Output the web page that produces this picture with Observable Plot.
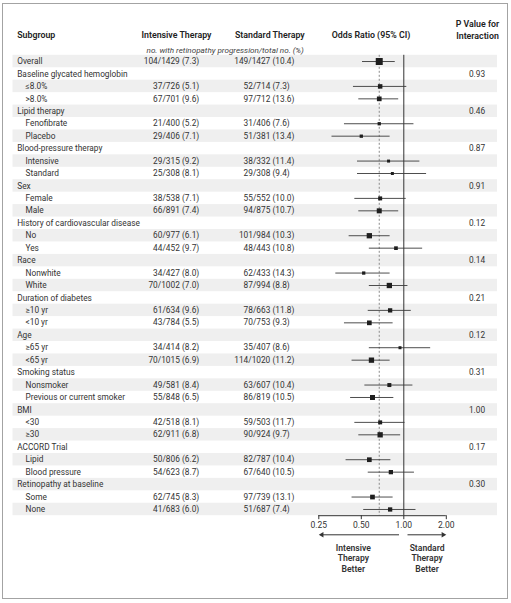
<!DOCTYPE html>
<html><head><meta charset="utf-8">
<script src="https://cdn.jsdelivr.net/npm/d3@7"></script>
<script src="https://cdn.jsdelivr.net/npm/@observablehq/plot@0.6"></script>
<style>
body{margin:0;background:#fff;}
#wrap{position:relative;width:511px;height:603px;}
#box{position:absolute;left:2px;top:3px;width:506px;height:596px;box-sizing:border-box;border:1.5px solid #a3a3a3;}
#chart{position:absolute;left:0;top:0;}
</style></head><body>
<div id="wrap"><div id="box"></div><div id="chart"></div></div>
<script>
// ---------- data ----------
const subgroup = ["Overall","Baseline glycated hemoglobin","≤8.0%",">8.0%","Lipid therapy","Fenofibrate","Placebo",
  "Blood-pressure therapy","Intensive","Standard","Sex","Female","Male","History of cardiovascular disease","No","Yes",
  "Race","Nonwhite","White","Duration of diabetes","≥10 yr","<10 yr","Age","≥65 yr","<65 yr","Smoking status",
  "Nonsmoker","Previous or current smoker","BMI","<30","≥30","ACCORD Trial","Lipid","Blood pressure",
  "Retinopathy at baseline","Some","None"];
const depth = [0,0,1,1,0,1,1,0,1,1,0,1,1,0,1,1,0,1,1,0,1,1,0,1,1,0,1,1,0,1,1,0,1,1,0,1,1];
const intEvents = [104,null,37,67,null,21,29,null,29,25,null,38,66,null,60,44,null,34,70,null,61,43,null,34,70,null,49,55,null,42,62,null,50,54,null,62,41];
const intTotal  = [1429,null,726,701,null,400,406,null,315,308,null,538,891,null,977,452,null,427,1002,null,634,784,null,414,1015,null,581,848,null,518,911,null,806,623,null,745,683];
const intPct    = [7.3,null,5.1,9.6,null,5.2,7.1,null,9.2,8.1,null,7.1,7.4,null,6.1,9.7,null,8.0,7.0,null,9.6,5.5,null,8.2,6.9,null,8.4,6.5,null,8.1,6.8,null,6.2,8.7,null,8.3,6.0];
const stdEvents = [149,null,52,97,null,31,51,null,38,29,null,55,94,null,101,48,null,62,87,null,78,70,null,35,114,null,63,86,null,59,90,null,82,67,null,97,51];
const stdTotal  = [1427,null,714,712,null,406,381,null,332,308,null,552,875,null,984,443,null,433,994,null,663,753,null,407,1020,null,607,819,null,503,924,null,787,640,null,739,687];
const stdPct    = [10.4,null,7.3,13.6,null,7.6,13.4,null,11.4,9.4,null,10.0,10.7,null,10.3,10.8,null,14.3,8.8,null,11.8,9.3,null,8.6,11.2,null,10.4,10.5,null,11.7,9.7,null,10.4,10.5,null,13.1,7.4];
const oddsRatio = [0.67,null,0.68,0.67,null,0.67,0.50,null,0.78,0.83,null,0.68,0.67,null,0.57,0.88,null,0.52,0.79,null,0.80,0.57,null,0.94,0.59,null,0.79,0.60,null,0.68,0.68,null,0.57,0.81,null,0.60,0.80];
const ciLow     = [0.51,null,0.44,0.48,null,0.38,0.31,null,0.47,0.47,null,0.45,0.48,null,0.41,0.57,null,0.33,0.57,null,0.56,0.38,null,0.57,0.43,null,0.53,0.42,null,0.45,0.48,null,0.39,0.56,null,0.43,0.52];
const ciHigh    = [0.87,null,1.05,0.92,null,1.18,0.80,null,1.30,1.45,null,1.04,0.92,null,0.80,1.36,null,0.80,1.07,null,1.13,0.84,null,1.55,0.80,null,1.16,0.85,null,1.02,0.95,null,0.81,1.19,null,0.84,1.22];
const weight    = [7,null,4.5,4.7,null,3.3,3.3,null,3,3,null,4,5,null,5.3,3.7,null,3.3,5.3,null,4.3,4.7,null,3,5.3,null,4,5,null,4,5.3,null,4.7,4.3,null,4.7,4.3];
const pInteraction = [null,0.93,null,null,0.46,null,null,0.87,null,null,0.91,null,null,0.12,null,null,0.14,null,null,0.21,null,null,0.12,null,null,0.31,null,null,1.00,null,null,0.17,null,null,0.30,null,null];
const axisTicks = [0.25, 0.5, 1, 2];
const headerSubgroup = "Subgroup", headerIntensive = "Intensive Therapy", headerStandard = "Standard Therapy",
      headerOR = "Odds Ratio (95% CI)", headerP = "P Value for\nInteraction",
      headerUnits = "no. with retinopathy progression/total no. (%)";
const leftLabel = "Intensive\nTherapy\nBetter", rightLabel = "Standard\nTherapy\nBetter";

// ---------- table ----------
const rows = subgroup.map((label, i) => ({
  i, label, depth: depth[i],
  intN: intEvents[i], intT: intTotal[i], intP: intPct[i],
  stdN: stdEvents[i], stdT: stdTotal[i], stdP: stdPct[i],
  or: oddsRatio[i], lo: ciLow[i], hi: ciHigh[i], w: weight[i], p: pInteraction[i]
}));
const n = rows.length;
const dataRows = rows.filter(d => d.or != null);
const overallOR = oddsRatio[0];
const fmt2 = d3.format(".2f");

// ---------- layout ----------
const W = 511, H = 603;
const mL = 12.5, mR = 14, mT = 54.8, mB = H - 515.2;
const font = "Roboto, 'Open Sans', Arial, sans-serif";
const ink = "#333";
const colSub = 16.7 - mL, colItem = 25 - mL, colIntParen = 181.5 - mL, colStdParen = 272 - mL, colP = 476.5 - mL;
const gap = 2.2;
const arrowDy = 19.1;
const hdr = {fill: "#222", fontWeight: 600, fontSize: 8.8};

const chart = Plot.plot({
  width: W, height: H,
  marginLeft: mL, marginRight: mR, marginTop: mT, marginBottom: mB,
  style: {fontFamily: font, fontSize: "8.3px", color: ink, background: "transparent", overflow: "visible"},
  x: {type: "log", domain: [axisTicks[0], axisTicks[axisTicks.length - 1]], range: [318.3, 445.8], axis: null},
  y: {domain: [-0.5, n - 0.5], range: [mT, H - mB], axis: null},
  r: {type: "linear", domain: [0, 10], range: [0, 10 / Math.sqrt(Math.PI)]},
  marks: [
    // zebra stripes
    Plot.rect(rows.filter(d => d.i % 2 === 0), {y1: d => d.i - 0.5, y2: d => d.i + 0.5, fill: "#efefef"}),
    // reference lines
    Plot.ruleX([1], {y1: -0.5, y2: n - 0.5, stroke: ink, strokeWidth: 1}),
    Plot.ruleX([overallOR], {y1: -0.5, y2: n - 0.5, stroke: "#8a8a8a", strokeWidth: 1, strokeDasharray: "2,2"}),
    // confidence intervals and squares
    Plot.ruleY(dataRows, {y: "i", x1: "lo", x2: "hi", stroke: "#3a3a3a", strokeWidth: 0.9}),
    Plot.dot(dataRows, {x: "or", y: "i", r: "w", symbol: "square", fill: "#1e1e1e", stroke: "none"}),
    // axis line, ticks and labels
    Plot.ruleY([n - 0.5], {x1: axisTicks[0], x2: axisTicks[axisTicks.length - 1], stroke: ink, strokeWidth: 1}),
    Plot.ruleX(axisTicks, {x: d => d, y1: n - 0.5, y2: n - 0.5, insetBottom: -4, stroke: ink, strokeWidth: 1}),
    Plot.text(axisTicks, {x: d => d, text: d => fmt2(d), frameAnchor: "bottom", lineAnchor: "middle", dy: 9.8, fill: ink, fontSize: 8.5}),
    // arrows
    Plot.ruleY([n - 0.5], {x1: axisTicks[0], x2: 1, insetLeft: 4, insetRight: 4.3, dy: arrowDy, stroke: ink, strokeWidth: 1}),
    Plot.ruleY([n - 0.5], {x1: 1, x2: axisTicks[axisTicks.length - 1], insetLeft: 4.2, insetRight: 4, dy: arrowDy, stroke: ink, strokeWidth: 1}),
    Plot.dot([axisTicks[0]], {x: d => d, y: () => n - 0.5, dy: arrowDy, dx: 3.1, symbol: "triangle", rotate: -90, r: 2, fill: ink, stroke: "none"}),
    Plot.dot([axisTicks[axisTicks.length - 1]], {x: d => d, y: () => n - 0.5, dy: arrowDy, dx: -3.1, symbol: "triangle", rotate: 90, r: 2, fill: ink, stroke: "none"}),
    Plot.text([leftLabel], {x: () => axisTicks[1], text: d => d, frameAnchor: "bottom", lineAnchor: "top", dy: 27.2, dx: -8, lineHeight: 1.26, ...hdr, fontSize: 8.6, fill: ink}),
    Plot.text([rightLabel], {x: () => Math.sqrt(1 * axisTicks[axisTicks.length - 1]), text: d => d, frameAnchor: "bottom", lineAnchor: "top", dy: 27.2, dx: 2, lineHeight: 1.26, ...hdr, fontSize: 8.6, fill: ink}),
    // headers
    Plot.text([headerSubgroup], {text: d => d, frameAnchor: "top-left", textAnchor: "start", lineAnchor: "middle", dx: colSub, dy: 34.3 - mT, ...hdr}),
    Plot.text([headerIntensive], {text: d => d, frameAnchor: "top-left", textAnchor: "middle", lineAnchor: "middle", dx: 176 - mL, dy: 34.3 - mT, ...hdr}),
    Plot.text([headerStandard], {text: d => d, frameAnchor: "top-left", textAnchor: "middle", lineAnchor: "middle", dx: 269.3 - mL, dy: 34.3 - mT, ...hdr}),
    Plot.text([headerOR], {text: d => d, frameAnchor: "top-left", textAnchor: "middle", lineAnchor: "middle", dx: 370.5 - mL, dy: 34.3 - mT, ...hdr}),
    Plot.text([headerP], {text: d => d, frameAnchor: "top-left", textAnchor: "middle", lineAnchor: "middle", lineHeight: 1.28, dx: 477 - mL, dy: 28.8 - mT, ...hdr}),
    Plot.text([headerUnits], {text: d => d, frameAnchor: "top-left", textAnchor: "middle", lineAnchor: "middle", dx: 224.7 - mL, dy: 49.6 - mT, fontStyle: "italic", fontSize: 8.1, fill: "#444"}),
    // subgroup labels
    Plot.text(rows.filter(d => d.depth === 0), {y: "i", text: "label", frameAnchor: "left", textAnchor: "start", dx: colSub, fill: ink}),
    Plot.text(rows.filter(d => d.depth === 1), {y: "i", text: "label", frameAnchor: "left", textAnchor: "start", dx: colItem, fill: ink}),
    // counts
    Plot.text(dataRows, {y: "i", text: d => `${d.intN}/${d.intT}`, frameAnchor: "left", textAnchor: "end", dx: colIntParen - gap, fill: ink}),
    Plot.text(dataRows, {y: "i", text: d => `(${d.intP.toFixed(1)})`, frameAnchor: "left", textAnchor: "start", dx: colIntParen, fill: ink}),
    Plot.text(dataRows, {y: "i", text: d => `${d.stdN}/${d.stdT}`, frameAnchor: "left", textAnchor: "end", dx: colStdParen - gap, fill: ink}),
    Plot.text(dataRows, {y: "i", text: d => `(${d.stdP.toFixed(1)})`, frameAnchor: "left", textAnchor: "start", dx: colStdParen, fill: ink}),
    // p values
    Plot.text(rows.filter(d => d.p != null), {y: "i", text: d => d.p.toFixed(2), frameAnchor: "left", textAnchor: "middle", dx: colP, fill: ink})
  ]
});
document.getElementById("chart").appendChild(chart);
</script>
</body></html>
